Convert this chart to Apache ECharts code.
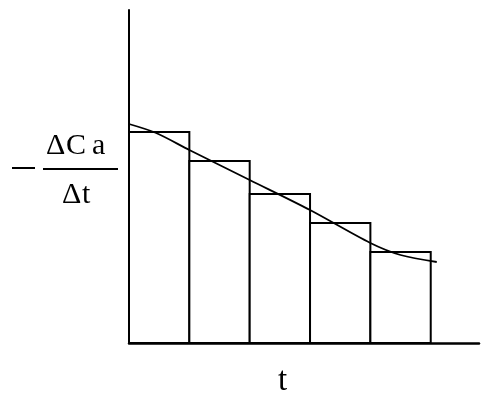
<!DOCTYPE html>
<html>
<head>
<meta charset="utf-8">
<script src="https://cdn.jsdelivr.net/npm/echarts@6/dist/echarts.min.js"></script>
<style>
  html, body { margin: 0; padding: 0; background: #fff; }
</style>
</head>
<body>
<div id="main" style="width:483px;height:398px"></div>
<script>
// intervals along t (bar edges) and the rate read for each one
var binStart = [0, 1, 2, 3, 4];
var binEnd = [1, 2, 3, 4, 5];
var rate = [21.1, 18.2, 14.9, 12.0, 9.1];

// the smooth curve of -dCa/dt against t
var curveT = [0, 0.45, 1, 2, 3, 4, 4.5, 5.1];
var curveRate = [21.9, 21.0, 19.3, 16.3, 13.3, 10.0, 8.8, 8.1];

var barData = [];
for (var i = 0; i < rate.length; i++) {
  barData.push([binStart[i], binEnd[i], rate[i]]);
}
var lineData = [];
for (var j = 0; j < curveT.length; j++) {
  lineData.push([curveT[j], curveRate[j]]);
}

var serif = 'Liberation Serif';
var labelFont = '30px ' + serif;

var option = {
  animation: false,
  grid: { left: 129, right: 4, top: 10, bottom: 55 },
  xAxis: {
    type: 'value',
    min: 0,
    max: 5.8,
    axisLine: { show: true, lineStyle: { color: '#000', width: 2.5 } },
    axisTick: { show: false },
    axisLabel: { show: false },
    splitLine: { show: false }
  },
  yAxis: {
    type: 'value',
    min: 0,
    max: 33.3,
    axisLine: { show: true, lineStyle: { color: '#000', width: 2 } },
    axisTick: { show: false },
    axisLabel: { show: false },
    splitLine: { show: false }
  },
  graphic: [
    { type: 'line', shape: { x1: 12, y1: 168, x2: 35, y2: 168 }, style: { stroke: '#000', lineWidth: 2 } },
    { type: 'line', shape: { x1: 43, y1: 169, x2: 118, y2: 169 }, style: { stroke: '#000', lineWidth: 2 } },
    { type: 'text', left: 46, top: 131, style: { text: 'Δ', font: labelFont, fill: '#000' } },
    { type: 'text', left: 66, top: 131, style: { text: 'C', font: labelFont, fill: '#000' } },
    { type: 'text', left: 92, top: 131, style: { text: 'a', font: labelFont, fill: '#000' } },
    { type: 'text', left: 62, top: 180, style: { text: 'Δ', font: labelFont, fill: '#000' } },
    { type: 'text', left: 82, top: 180, style: { text: 't', font: labelFont, fill: '#000' } },
    { type: 'text', left: 278, top: 365, style: { text: 't', font: '33px ' + serif, fill: '#000' } }
  ],
  series: [
    {
      type: 'custom',
      data: barData,
      renderItem: function (params, api) {
        var p0 = api.coord([api.value(0), api.value(2)]);
        var p1 = api.coord([api.value(1), 0]);
        return {
          type: 'rect',
          shape: { x: p0[0], y: p0[1], width: p1[0] - p0[0], height: p1[1] - p0[1] },
          style: { fill: '#fff', stroke: '#000', lineWidth: 2 }
        };
      },
      z: 2
    },
    {
      type: 'line',
      data: lineData,
      showSymbol: false,
      smooth: 0.3,
      lineStyle: { color: '#000', width: 1.8 },
      z: 3
    }
  ]
};

var myChart = echarts.init(document.getElementById('main'));
myChart.setOption(option);
</script>
</body>
</html>
